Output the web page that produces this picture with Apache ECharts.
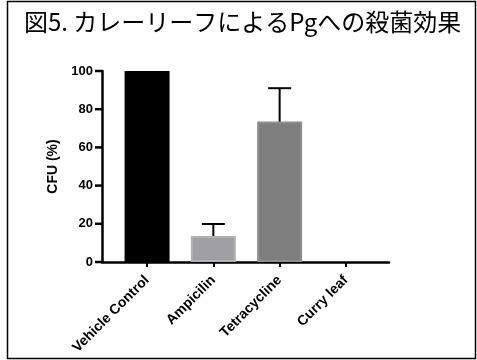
<!DOCTYPE html>
<html>
<head>
<meta charset="utf-8">
<script src="https://cdn.jsdelivr.net/npm/echarts@6/dist/echarts.min.js"></script>
<style>
  html, body { margin: 0; padding: 0; background: #fff; }
  #chart { width: 477px; height: 360px; }
</style>
</head>
<body>
<div id="chart"></div>
<script>
// Bactericidal effect on Pg: CFU relative to vehicle control
const titleText = '図5. カレーリーフによるPgへの殺菌効果';
const categories = ['Vehicle Control', 'Ampicilin', 'Tetracycline', 'Curry leaf'];
const cfuMeans = [100, 13.6, 73.5, 0];
const cfuUpper = [null, 19.9, 91, null];   // mean + error
const barColors = ['#000000', '#a0a0a4', '#7e7e7e', '#7e7e7e'];
const barBorders = ['#000000', '#b3b3b6', '#8e8e8e', '#8e8e8e'];
const yTicks = [0, 20, 40, 60, 80, 100];

const X_MIN = -0.68, X_MAX = 3.65;
const positions = categories.map((_, i) => i);
const labelFont = "'Liberation Sans', Arial, sans-serif";

const barData = cfuMeans.map((v, i) => ({
  value: [i, v],
  itemStyle: {
    color: barColors[i],
    borderColor: barBorders[i],
    borderWidth: v > 0 ? 2 : 0
  }
}));

const errData = [];
cfuUpper.forEach((u, i) => { if (u !== null) errData.push([i, cfuMeans[i], u]); });

const chart = echarts.init(document.getElementById('chart'), null, { renderer: 'canvas' });

chart.setOption({
  animation: false,
  backgroundColor: '#fff',
  title: {
    text: titleText,
    left: 19,
    top: 5,
    textStyle: {
      fontFamily: "'Noto Sans CJK JP'",
      fontWeight: 'normal',
      fontSize: 24,
      color: '#000'
    }
  },
  graphic: [{
    type: 'rect',
    shape: { x: 7.5, y: 1.5, width: 468, height: 357 },
    style: { fill: 'none', stroke: '#000', lineWidth: 1.5 },
    silent: true,
    z: 100
  }],
  grid: { left: 102, right: 88, top: 71, bottom: 98 },
  xAxis: {
    type: 'value',
    min: X_MIN,
    max: X_MAX,
    splitLine: { show: false },
    axisLine: { show: true, onZero: false, lineStyle: { color: '#000', width: 2.5 } },
    axisTick: {
      show: true,
      customValues: positions,
      length: 5,
      lineStyle: { color: '#000', width: 2 }
    },
    axisLabel: {
      customValues: positions,
      rotate: 45,
      margin: 16,
      formatter: v => categories[Math.round(v)],
      fontFamily: labelFont,
      fontWeight: 'bold',
      fontSize: 14,
      color: '#000'
    }
  },
  yAxis: {
    type: 'value',
    min: 0,
    max: 100,
    interval: 20,
    name: 'CFU (%)',
    nameLocation: 'middle',
    nameGap: 38,
    nameTextStyle: {
      fontFamily: labelFont,
      fontWeight: 'bold',
      fontSize: 14,
      color: '#000'
    },
    splitLine: { show: false },
    axisLine: { show: true, onZero: false, lineStyle: { color: '#000', width: 2.5 } },
    axisTick: { show: false },
    axisLabel: {
      customValues: yTicks,
      margin: 9,
      fontFamily: labelFont,
      fontWeight: 'bold',
      fontSize: 13,
      color: '#000'
    }
  },
  series: [
    {
      type: 'bar',
      data: barData,
      barWidth: 45,
      z: 2
    },
    {
      // outward tick marks on the value axis
      type: 'custom',
      data: yTicks.map(v => [X_MIN, v]),
      encode: { x: 0, y: 1 },
      clip: false,
      z: 4,
      renderItem: function (params, api) {
        const p = api.coord([api.value(0), api.value(1)]);
        return {
          type: 'line',
          shape: { x1: p[0] - 7, y1: p[1], x2: p[0], y2: p[1] },
          style: { stroke: '#000', lineWidth: 2.5 }
        };
      }
    },
    {
      type: 'custom',
      data: errData,
      z: 3,
      renderItem: function (params, api) {
        const x = api.value(0);
        const base = api.coord([x, api.value(1)]);
        const top = api.coord([x, api.value(2)]);
        const half = 11.5;
        return {
          type: 'group',
          children: [
            { type: 'line', shape: { x1: base[0], y1: base[1], x2: top[0], y2: top[1] },
              style: { stroke: '#000', lineWidth: 2 } },
            { type: 'line', shape: { x1: top[0] - half, y1: top[1], x2: top[0] + half, y2: top[1] },
              style: { stroke: '#000', lineWidth: 2 } }
          ]
        };
      }
    }
  ]
});
</script>
</body>
</html>
